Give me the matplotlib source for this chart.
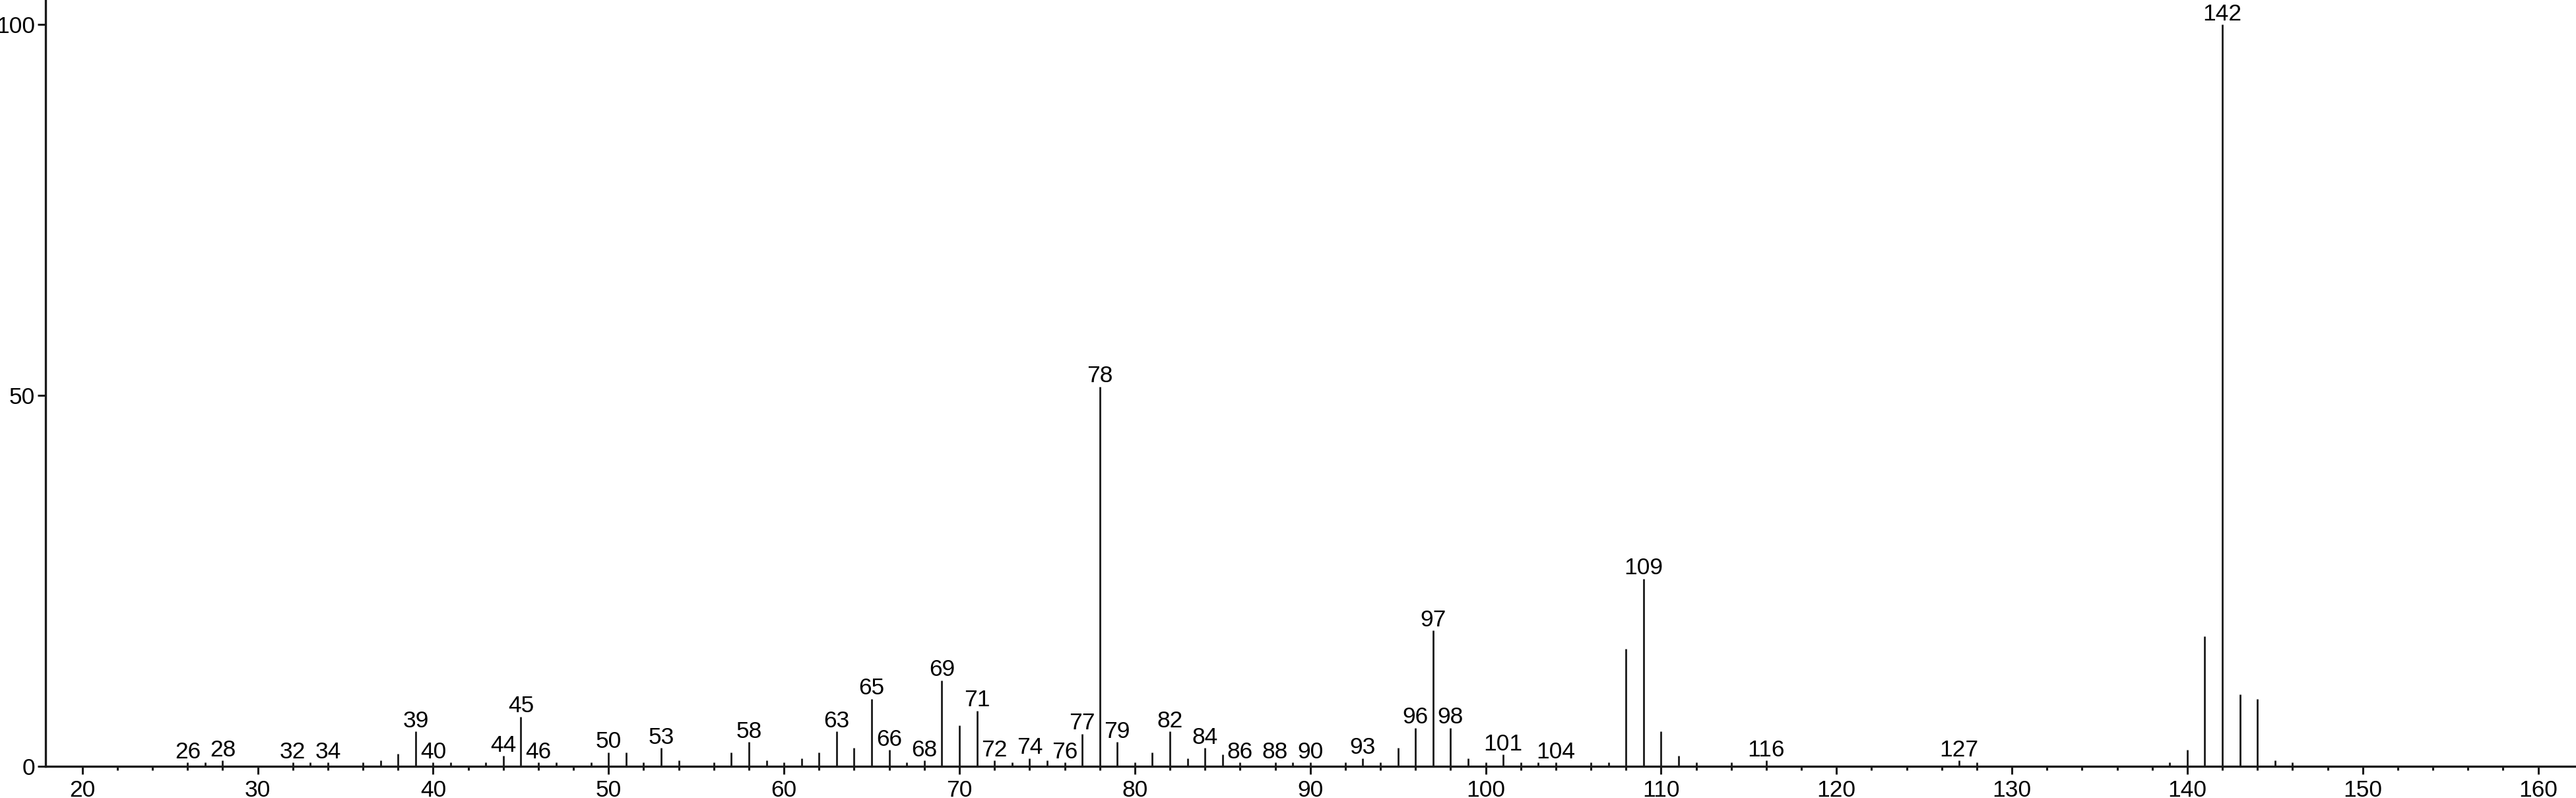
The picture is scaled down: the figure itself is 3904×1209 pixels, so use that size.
import matplotlib.pyplot as plt
import numpy as np

# Spectre de masse (m/z, intensité relative)
mz = [26, 27, 28, 32, 33, 34, 36, 37, 38, 39, 40, 41, 43, 44, 45, 46, 47, 49, 50, 51,
      52, 53, 54, 56, 57, 58, 59, 60, 61, 62, 63, 64, 65, 66, 67, 68, 69, 70, 71, 72,
      73, 74, 75, 76, 77, 78, 79, 80, 81, 82, 83, 84, 85, 86, 88, 89, 90, 92, 93, 94,
      95, 96, 97, 98, 99, 100, 101, 102, 103, 104, 106, 107, 108, 109, 110, 111, 112,
      114, 116, 127, 128, 139, 140, 141, 142, 143, 144, 145, 146]
intensity = [0.5, 0.5, 0.8, 0.5, 0.5, 0.5, 0.5, 0.8, 1.7, 4.7, 0.5, 0.5, 0.5, 1.4, 6.7,
             0.5, 0.5, 0.5, 1.9, 1.9, 0.5, 2.5, 0.8, 0.5, 1.9, 3.3, 0.8, 0.5, 1.1, 1.9,
             4.7, 2.5, 9.1, 2.2, 0.5, 0.8, 11.6, 5.5, 7.5, 0.8, 0.5, 1.1, 0.8, 0.5, 4.4,
             51.2, 3.3, 0.5, 1.9, 4.7, 1.1, 2.5, 1.6, 0.5, 0.5, 0.5, 0.5, 0.5, 1.1, 0.5,
             2.5, 5.2, 18.3, 5.2, 1.1, 0.5, 1.6, 0.5, 0.5, 0.5, 0.5, 0.5, 15.8, 25.3, 4.7,
             1.4, 0.5, 0.5, 0.8, 0.8, 0.5, 0.5, 2.2, 17.5, 100.0, 9.7, 9.1, 0.8, 0.5]
labelled = [26, 28, 32, 34, 39, 40, 44, 45, 46, 50, 53, 58, 63, 65, 66, 68, 69, 71, 72,
            74, 76, 77, 78, 79, 82, 84, 86, 88, 90, 93, 96, 97, 98, 101, 104, 109, 116,
            127, 142]

plt.rcParams['font.family'] = ['Liberation Sans Narrow', 'Liberation Sans', 'DejaVu Sans']

fig = plt.figure(figsize=(39.05, 12.09), dpi=100)
ax = fig.add_axes([69 / 3905, 1 - 1161 / 1209, 1 - 69 / 3905, 1161 / 1209])

col = '#1a1a1a'
ax.vlines(mz, 0, intensity, color=col, linewidth=2.0)

for m, h in zip(mz, intensity):
    if m in labelled:
        ax.annotate(str(m), (m, h), xytext=(0, 4.5), textcoords='offset points',
                    ha='center', va='baseline', fontsize=25.5, color='black',
                    annotation_clip=False)

ax.set_xlim(17.9, 162.2)
ax.set_ylim(0, 103.3)

ax.spines['top'].set_visible(False)
ax.spines['right'].set_visible(False)
ax.spines['left'].set_linewidth(2.4)
ax.spines['bottom'].set_linewidth(2.4)
ax.spines['left'].set_color(col)
ax.spines['bottom'].set_color(col)

ax.set_xticks(np.arange(20, 161, 10))
ax.set_xticks([v for v in range(22, 161, 2) if v % 10 != 0], minor=True)
ax.set_yticks([0, 50, 100])
ax.tick_params(axis='x', which='major', length=8.6, width=2.2, color=col,
               labelsize=25.5, pad=6)
ax.tick_params(axis='x', which='minor', length=4.3, width=2.2, color=col)
ax.tick_params(axis='y', which='major', length=8.6, width=2.2, color=col,
               labelsize=25.5, pad=3)

fig.savefig('out.png', dpi=100)
